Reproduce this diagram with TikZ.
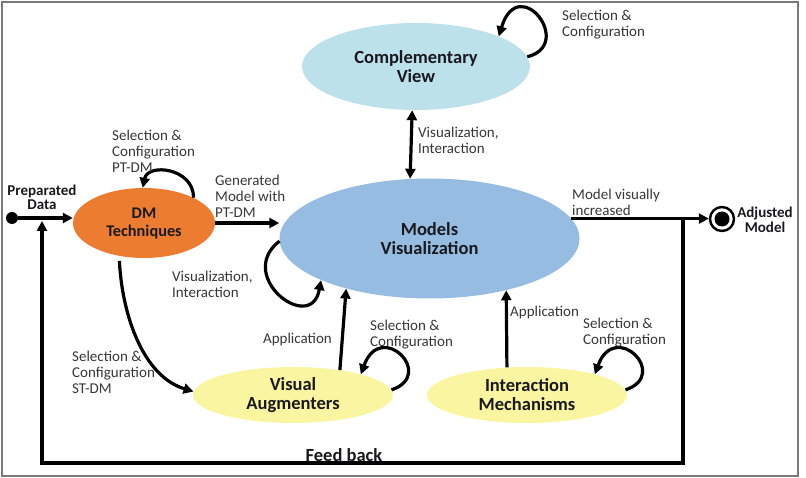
\documentclass[tikz,border=0pt]{standalone}
\usepackage{fontspec}
\setmainfont{Carlito}
\usetikzlibrary{arrows.meta,positioning,calc,shapes.geometric}
\definecolor{ViewCyan}{RGB}{189,225,235}
\definecolor{ModelBlue}{RGB}{150,188,226}
\definecolor{DMOrange}{RGB}{236,125,48}
\definecolor{AugYellow}{RGB}{249,245,160}
\definecolor{Ink}{RGB}{25,25,30}
\definecolor{LabelGray}{RGB}{55,55,55}
\definecolor{FrameGray}{RGB}{120,120,120}
\tikzset{
  phase/.style={ellipse, inner sep=0pt, text=Ink, align=center, font=\fontsize{18.5}{19}\selectfont\bfseries},
  lbl/.style={text=LabelGray, align=left, inner sep=0pt, font=\fontsize{15}{16}\selectfont},
  endlbl/.style={text=Ink, align=center, inner sep=0pt, font=\fontsize{15}{14}\selectfont\bfseries},
  flowarr/.style={-{Triangle[length=10pt,width=10pt]}, draw=black, line width=3.2pt},
  dflowarr/.style={{Triangle[length=10pt,width=10pt]}-{Triangle[length=10pt,width=10pt]}, draw=black, line width=3.2pt},
  startdot/.style={circle, fill=black, inner sep=0pt, minimum size=12pt},
  endring/.style={circle, draw=black, line width=2.4pt, inner sep=0pt, minimum size=24pt},
  frame/.style={draw=FrameGray, line width=2pt},
}

\begin{document}
\begin{tikzpicture}[x=1pt, y=-1pt]
  \useasboundingbox (0,0) rectangle (806,478);
  \draw[frame] (2,2) rectangle (798,476);

  % states
  \node[phase, fill=ViewCyan, minimum width=228pt, minimum height=87pt] (cv) at (416,66.5) {Complementary\\View};
  \node[phase, fill=ModelBlue, minimum width=300pt, minimum height=120pt] (mv) at (429.5,238.5) {Models\\Visualization};
  \node[phase, fill=DMOrange, minimum width=142pt, minimum height=70pt, font=\fontsize{16.3}{18}\selectfont\bfseries] (dm) at (144,223) {DM\\Techniques};
  \node[phase, fill=AugYellow, minimum width=200pt, minimum height=56pt] (va) at (293,395) {Visual\\Augmenters};
  \node[phase, fill=AugYellow, minimum width=200pt, minimum height=56pt] (im) at (527,395) {Interaction\\Mechanisms};

  \node[startdot] (start) at (12,218) {};
  \node[endring] (adj) at (722,219) {};
  \fill (adj.center) circle (7.5pt);
  \coordinate (fbR) at (683,463);
  \coordinate (fbL) at (42,463);

  % flows
  \draw[flowarr] (start) -- (start -| dm.west);
  \draw[flowarr] (dm.east) -- (dm.east -| mv.west);
  \draw[dflowarr] (cv.265) -- (mv.108);
  \draw[flowarr] (va.28) -- (mv.211);
  \draw[flowarr] (im.126) -- (mv.326);
  \draw[flowarr, shorten <=5pt] (dm.233) .. controls +(3,60) and +(-50,-15) .. (va.178);
  \draw[flowarr] (mv.8) -- (mv.8 -| adj.west);
  \draw[flowarr] (mv.8 -| fbR) -- (fbR) -- (fbL) -- ($(fbL |- start)+(0,3)$);

  % loops
  \draw[flowarr] (dm.27) .. controls +(0,-30) and +(5,-25) .. (dm.92);
  \draw[flowarr] (cv.5) .. controls +(48,-12) and +(20,-65) .. (cv.20);
  \draw[flowarr] (mv.181) .. controls +(-45,35) and +(-10,55) .. (mv.201);
  \draw[flowarr] (va.3) .. controls +(45,-15) and +(20,-55) .. (va.17);
  \draw[flowarr] (im.3) .. controls +(45,-15) and +(20,-55) .. (im.17);

  % labels
  \node[endlbl] (lStart) at (42,197) {Preparated\\Data};
  \node[endlbl, font=\fontsize{15}{15}\selectfont\bfseries] (lAdj) at (765,219.5) {Adjusted\\Model};
  \node[lbl, anchor=west] (lDMloop) at (112,151) {Selection \&\\Configuration\\PT-DM};
  \node[lbl, anchor=west] (lGen) at (215,196) {Generated\\Model with\\PT-DM};
  \node[lbl, anchor=west] (lCV) at (562,25) {Selection \&\\Configuration};
  \node[lbl, anchor=west] (lCVMV) at (418,140.5) {Visualization,\\Interaction};
  \node[lbl, anchor=west] (lOut) at (572,202.5) {Model visually\\increased};
  \node[lbl, anchor=west] (lMV) at (172,284.5) {Visualization,\\Interaction};
  \node[lbl, anchor=east] (lAppVA) at (332,340) {Application};
  \node[lbl, anchor=west] (lVA) at (370,334.5) {Selection \&\\Configuration};
  \node[lbl, anchor=west] (lAppIM) at (510,313) {Application};
  \node[lbl, anchor=west] (lIM) at (583,332.5) {Selection \&\\Configuration};
  \node[lbl, anchor=west] (lST) at (72,372) {Selection \&\\Configuration\\ST-DM};
  \node[text=Ink, inner sep=0pt, font=\fontsize{18.5}{19}\selectfont\bfseries] (lFb) at (344,455) {Feed back};
\end{tikzpicture}
\end{document}
